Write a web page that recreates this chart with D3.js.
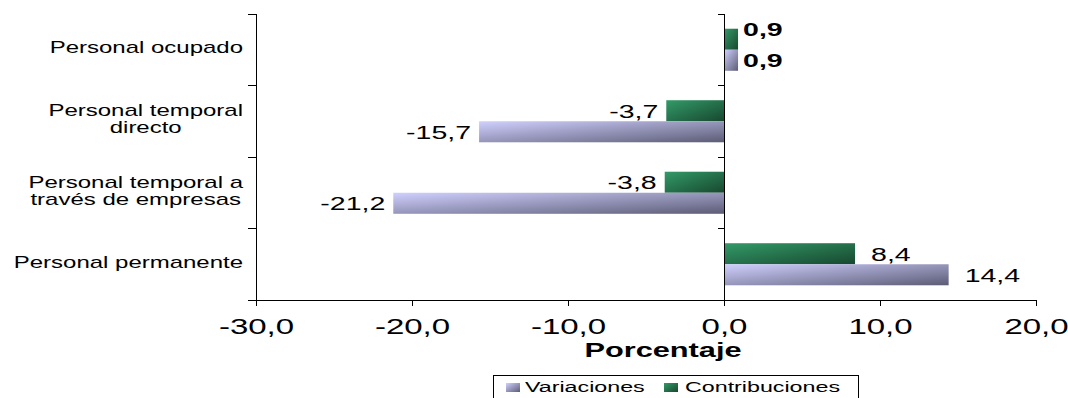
<!DOCTYPE html>
<html>
<head>
<meta charset="utf-8">
<script src="https://cdn.jsdelivr.net/npm/d3@7"></script>
<style>
  html, body { margin: 0; padding: 0; background: #fff; }
  svg { display: block; font-family: "Liberation Sans", Arial, sans-serif; }
</style>
</head>
<body>
<svg id="chart" width="1068" height="398"></svg>
<script>
// Categories, top to bottom, and how each label breaks into lines
const categories = [
  "Personal ocupado",
  "Personal temporal directo",
  "Personal temporal a través de empresas",
  "Personal permanente"
];
const categoryLines = [
  ["Personal ocupado"],
  ["Personal temporal", "directo"],
  ["Personal temporal a", "través de empresas"],
  ["Personal permanente"]
];
// Series values (percent)
const contribuciones = [0.9, -3.7, -3.8, 8.4];
const variaciones = [0.9, -15.7, -21.2, 14.4];
const seriesNames = ["Variaciones", "Contribuciones"];
const xTicks = [-30, -20, -10, 0, 10, 20];
const xTitle = "Porcentaje";

const svg = d3.select("#chart");
const STRETCH = 1.5; // wide lettering of the original typeface

const fmt = v => d3.format(".1f")(v).replace(".", ",").replace("−", "-");

// Gradients
const defs = svg.append("defs");
function grad(id, c0, c1) {
  const g = defs.append("linearGradient").attr("id", id)
    .attr("x1", 0).attr("y1", 0).attr("x2", 1).attr("y2", 1);
  g.append("stop").attr("offset", "0%").attr("stop-color", c0);
  g.append("stop").attr("offset", "100%").attr("stop-color", c1);
}
grad("gVar", "#d0d0ff", "#5c5c76");
grad("gCon", "#339a68", "#17482f");
const fills = { Variaciones: "url(#gVar)", Contribuciones: "url(#gCon)" };

const x = d3.scaleLinear().domain([-30, 20]).range([256, 1036]);
const y = d3.scaleBand().domain(categories).range([14, 300]).paddingInner(0);
const inner = d3.scaleBand().domain(["Contribuciones", "Variaciones"])
  .range([0, y.bandwidth()]).paddingOuter(0.7).paddingInner(0);

function stretchedText(sel, px, py, txt, size, anchor, weight) {
  return sel.append("text")
    .attr("transform", `translate(${px},${py}) scale(${STRETCH},1)`)
    .attr("text-anchor", anchor)
    .attr("font-size", size)
    .attr("font-weight", weight || "normal")
    .attr("fill", "#000")
    .text(txt);
}

// Bars
const rows = categories.map((c, i) => ({
  cat: c, i,
  vals: [
    { s: "Contribuciones", v: contribuciones[i] },
    { s: "Variaciones", v: variaciones[i] }
  ]
}));

const barsG = svg.append("g");
rows.forEach(r => {
  r.vals.forEach(d => {
    const y0 = y(r.cat) + inner(d.s);
    barsG.append("rect")
      .attr("x", x(Math.min(0, d.v)))
      .attr("y", y0)
      .attr("width", Math.abs(x(d.v) - x(0)))
      .attr("height", inner.bandwidth())
      .attr("fill", fills[d.s]);
  });
});

// Axes
const axisG = svg.append("g").attr("stroke", "#000").attr("stroke-width", 1).attr("shape-rendering", "crispEdges");
const yTop = y.range()[0], yBot = y.range()[1];
const edges = categories.map(c => y(c)).concat([yBot]);
// left category axis
axisG.append("line").attr("x1", x(-30)).attr("x2", x(-30)).attr("y1", yTop).attr("y2", yBot);
edges.forEach(e => axisG.append("line").attr("x1", x(-30) - 8).attr("x2", x(-30)).attr("y1", e).attr("y2", e));
// zero line with its ticks
axisG.append("line").attr("x1", x(0) + 0.5).attr("x2", x(0) + 0.5).attr("y1", yTop).attr("y2", yBot);
edges.forEach(e => axisG.append("line").attr("x1", x(0) - 6).attr("x2", x(0)).attr("y1", e).attr("y2", e));

// value axis
const xAxis = d3.axisBottom(x).tickValues(xTicks).tickFormat(fmt).tickSizeInner(6).tickSizeOuter(0);
const xg = svg.append("g").attr("transform", `translate(0,${yBot})`).call(xAxis);
xg.select(".domain").attr("stroke", "#000").attr("shape-rendering", "crispEdges");
xg.selectAll(".tick line").attr("stroke", "#000").attr("shape-rendering", "crispEdges");
xg.selectAll(".tick text")
  .attr("y", 34).attr("dy", 0)
  .attr("font-size", 22)
  .attr("font-family", "Liberation Sans, Arial, sans-serif")
  .attr("fill", "#000")
  .attr("transform", `scale(${STRETCH},1)`);

// Axis title
stretchedText(svg, 663, 357, xTitle, 20.5, "middle", "bold");

// Category labels
const labG = svg.append("g");
categoryLines.forEach((lines, i) => {
  const cy = y(categories[i]) + y.bandwidth() / 2;
  const n = lines.length;
  const tmp = lines.map(l => stretchedText(labG, 0, -100, l, 16, "start"));
  const widths = tmp.map(t => t.node().getComputedTextLength() * STRETCH);
  tmp.forEach(t => t.remove());
  const maxW = d3.max(widths);
  const cx = 243 - maxW / 2;
  lines.forEach((l, k) => {
    const by = cy + 3.5 + (k - (n - 1) / 2) * 17;
    stretchedText(labG, cx, by, l, 16, "middle");
  });
});

// Value labels
const valG = svg.append("g");
rows.forEach(r => {
  r.vals.forEach(d => {
    let cy = y(r.cat) + inner(d.s) + inner.bandwidth() / 2;
    if (r.i === 0 && d.s === "Contribuciones") cy -= 10;
    const bold = r.i === 0;
    const pos = d.v >= 0;
    const px = pos ? x(d.v) + (bold ? 5 : 16) : x(d.v) - 8;
    stretchedText(valG, px, cy + 7, fmt(d.v), 19, pos ? "start" : "end", bold ? "bold" : "normal");
  });
});

// Legend
const lg = svg.append("g");
lg.append("rect").attr("x", 493.5).attr("y", 375.5).attr("width", 365).attr("height", 40)
  .attr("fill", "#fff").attr("stroke", "#000");
const legendItems = [
  { name: seriesNames[0], sx: 506, tx: 525 },
  { name: seriesNames[1], sx: 664, tx: 685 }
];
legendItems.forEach(it => {
  lg.append("rect").attr("x", it.sx).attr("y", 383).attr("width", 14).attr("height", 9)
    .attr("fill", fills[it.name]);
  stretchedText(lg, it.tx, 392, it.name, 15.5, "start");
});
</script>
</body>
</html>
